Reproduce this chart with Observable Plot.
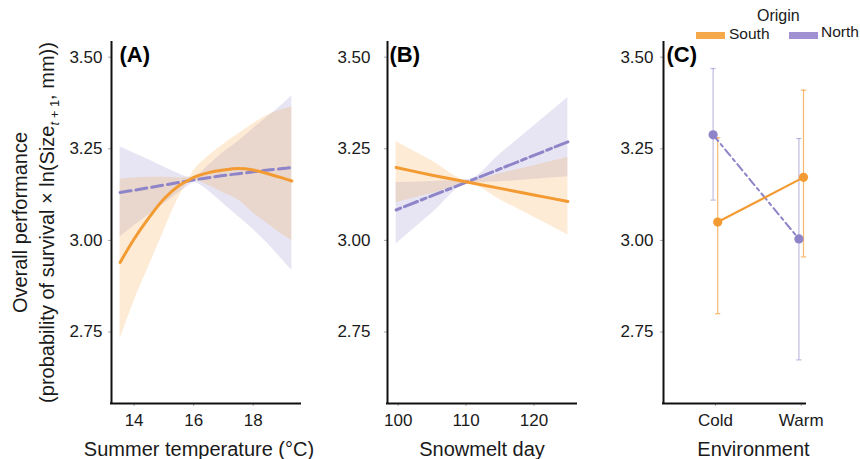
<!DOCTYPE html>
<html><head><meta charset="utf-8">
<script src="https://cdn.jsdelivr.net/npm/d3@7"></script>
<script src="https://cdn.jsdelivr.net/npm/@observablehq/plot@0.6"></script>
<style>
body{margin:0;background:#fff;}
#wrap{position:relative;width:860px;height:459px;overflow:hidden;font-family:"Liberation Sans",Arial,sans-serif;color:#1a1a1a;}
.panel{position:absolute;top:0;}
#ytitle{position:absolute;left:-167px;top:195.5px;width:400px;height:53px;line-height:26.5px;font-size:20px;text-align:center;transform:rotate(-90deg);transform-origin:center;white-space:nowrap;}
.sub{font-size:13px;vertical-align:-5px;line-height:0;}
.leg{position:absolute;font-size:16px;line-height:16px;white-space:nowrap;}
.key{position:absolute;height:7px;}
</style></head><body><div id="wrap"></div>
<script>
// ---------- data ----------
const yDomain = [2.555, 3.54];
const yTicks = [2.75, 3.00, 3.25, 3.50];

// Panel A: summer temperature
const tempX       = [13.53, 14, 14.5, 15, 15.5, 15.85, 16, 16.5, 17, 17.5, 18, 18.5, 19, 19.3];
const tempSouthFit = [2.94, 3.004, 3.062, 3.113, 3.149, 3.165, 3.172, 3.185, 3.192, 3.196, 3.192, 3.182, 3.170, 3.162];
const tempSouthLo  = [2.73, 2.835, 2.93, 3.026, 3.117, 3.160, 3.164, 3.15, 3.13, 3.11, 3.075, 3.045, 3.015, 3.00];
const tempSouthHi  = [3.167, 3.170, 3.172, 3.172, 3.170, 3.172, 3.19, 3.23, 3.262, 3.29, 3.318, 3.342, 3.357, 3.363];
const tempNorthFit = [3.131, 3.137, 3.144, 3.151, 3.158, 3.163, 3.165, 3.171, 3.177, 3.182, 3.187, 3.192, 3.196, 3.199];
const tempNorthLo  = [3.009, 3.04, 3.07, 3.10, 3.13, 3.15, 3.158, 3.135, 3.10, 3.065, 3.03, 2.99, 2.945, 2.918];
const tempNorthHi  = [3.255, 3.238, 3.22, 3.2, 3.182, 3.172, 3.172, 3.205, 3.24, 3.27, 3.305, 3.338, 3.372, 3.395];
const tempTicks = [14, 16, 18];

// Panel B: snowmelt day
const snowX        = [99.7, 105, 110.5, 115, 120, 125];
const snowSouthFit = [3.199, 3.178, 3.158, 3.142, 3.124, 3.106];
const snowSouthLo  = [3.103, 3.128, 3.153, 3.111, 3.063, 3.015];
const snowSouthHi  = [3.27, 3.217, 3.163, 3.182, 3.204, 3.226];
const snowNorthFit = [3.083, 3.122, 3.162, 3.195, 3.232, 3.269];
const snowNorthLo  = [2.99, 3.074, 3.157, 3.160, 3.167, 3.174];
const snowNorthHi  = [3.158, 3.161, 3.167, 3.235, 3.312, 3.39];
const snowTicks = [100, 110, 120];

// Panel C: environment
const envCats     = ["Cold", "Warm"];
const envSouthMean = [3.05, 3.172];
const envSouthLo   = [2.80, 2.955];
const envSouthHi   = [3.28, 3.41];
const envNorthMean = [3.288, 3.004];
const envNorthLo   = [3.11, 2.674];
const envNorthHi   = [3.469, 3.278];

const origins = ["South", "North"];

// ---------- style ----------
const ORANGE = "#F39B32", PURPLE = "#8E84C8";
const LEG_ORANGE = "#F6A94B", LEG_PURPLE = "#A092D2";
const FONT = "'Liberation Sans', Arial, sans-serif";

const tableA = tempX.map((x, i) => ({x, sF: tempSouthFit[i], sL: tempSouthLo[i], sH: tempSouthHi[i], nF: tempNorthFit[i], nL: tempNorthLo[i], nH: tempNorthHi[i]}));
const tableB = snowX.map((x, i) => ({x, sF: snowSouthFit[i], sL: snowSouthLo[i], sH: snowSouthHi[i], nF: snowNorthFit[i], nL: snowNorthLo[i], nH: snowNorthHi[i]}));
const southC = envCats.map((c, i) => ({pos: i + 1, mean: envSouthMean[i], lo: envSouthLo[i], hi: envSouthHi[i]}));
const northC = envCats.map((c, i) => ({pos: i + 1, mean: envNorthMean[i], lo: envNorthLo[i], hi: envNorthHi[i]}));

const capSymbol = {draw(ctx, size) { ctx.moveTo(-2.6, 0); ctx.lineTo(2.6, 0); }};

function ribbonMarks(table, northDash) {
  return [
    Plot.areaY(table, {x: "x", y1: "nL", y2: "nH", fill: PURPLE, fillOpacity: 0.21, curve: "monotone-x"}),
    Plot.areaY(table, {x: "x", y1: "sL", y2: "sH", fill: ORANGE, fillOpacity: 0.2, curve: "monotone-x"}),
    Plot.line(table, {x: "x", y: "nF", stroke: PURPLE, strokeWidth: 3, strokeDasharray: northDash, curve: "catmull-rom"}),
    Plot.line(table, {x: "x", y: "sF", stroke: ORANGE, strokeWidth: 3, curve: "catmull-rom"})
  ];
}

function makePanel({left, width, ml, mr, xDomain, xTicks, xFormat, tickPad, marks, title, titleDx, tag, tagDx}) {
  const chart = Plot.plot({
    width, height: 459,
    marginLeft: ml, marginRight: mr, marginTop: 42, marginBottom: 56,
    style: {fontFamily: FONT, fontSize: "17px", color: "#1a1a1a", background: "transparent", overflow: "visible"},
    x: {domain: xDomain},
    y: {domain: yDomain},
    marks: [
      ...marks,
      Plot.axisY({ticks: yTicks, tickFormat: d3.format(".2f"), tickSize: 3, tickPadding: tickPad, label: null, stroke: "#aaa", fill: "#1a1a1a"}),
      Plot.axisX({ticks: xTicks, tickFormat: xFormat, tickSize: 3, tickPadding: 7, label: null, stroke: "#aaa", fill: "#1a1a1a"}),
      Plot.ruleX([xDomain[0]], {stroke: "#111", strokeWidth: 2, strokeLinecap: "square"}),
      Plot.ruleY([yDomain[0]], {stroke: "#111", strokeWidth: 2, strokeLinecap: "square"}),
      Plot.text([title], {text: d => d, frameAnchor: "bottom", lineAnchor: "top", dy: 38, dx: titleDx, fontSize: 20, fill: "#1a1a1a"}),
      Plot.text([tag], {text: d => d, frameAnchor: "top-left", lineAnchor: "top", textAnchor: "start", dx: tagDx, dy: 4, fontSize: 22, fontWeight: "bold", fill: "#000"})
    ]
  });
  chart.classList.add("panel");
  chart.style.left = left + "px";
  document.getElementById("wrap").appendChild(chart);
}

makePanel({
  left: 0, width: 320, ml: 111, mr: 20,
  xDomain: [13.24, 19.59], xTicks: tempTicks, xFormat: d3.format("d"), tickPad: 6,
  marks: ribbonMarks(tableA, "11,5"),
  title: "Summer temperature (°C)", titleDx: -7, tag: "(A)", tagDx: 8
});

makePanel({
  left: 320, width: 290, ml: 67, mr: 34,
  xDomain: [98.43, 126.27], xTicks: snowTicks, xFormat: d3.format("d"), tickPad: 14,
  marks: ribbonMarks(tableB, "5,4,14,4"),
  title: "Snowmelt day", titleDx: 0, tag: "(B)", tagDx: 2
});

const dodge = 2.3;
makePanel({
  left: 610, width: 250, ml: 53, mr: 55,
  xDomain: [0.395, 2.05], xTicks: [1, 2], xFormat: d => envCats[d - 1], tickPad: 7,
  marks: [
    Plot.ruleX(southC, {x: "pos", y1: "lo", y2: "hi", dx: dodge, stroke: ORANGE, strokeOpacity: 0.7, strokeWidth: 1.2}),
    Plot.dot(southC, {x: "pos", y: "lo", dx: dodge, symbol: capSymbol, fill: "none", stroke: ORANGE, strokeOpacity: 0.7, strokeWidth: 1.2}),
    Plot.dot(southC, {x: "pos", y: "hi", dx: dodge, symbol: capSymbol, fill: "none", stroke: ORANGE, strokeOpacity: 0.7, strokeWidth: 1.2}),
    Plot.ruleX(northC, {x: "pos", y1: "lo", y2: "hi", dx: -dodge, stroke: PURPLE, strokeOpacity: 0.55, strokeWidth: 1.2}),
    Plot.dot(northC, {x: "pos", y: "lo", dx: -dodge, symbol: capSymbol, fill: "none", stroke: PURPLE, strokeOpacity: 0.55, strokeWidth: 1.2}),
    Plot.dot(northC, {x: "pos", y: "hi", dx: -dodge, symbol: capSymbol, fill: "none", stroke: PURPLE, strokeOpacity: 0.55, strokeWidth: 1.2}),
    Plot.line(northC, {x: "pos", y: "mean", dx: -dodge, stroke: PURPLE, strokeWidth: 2, strokeDasharray: "8,4,3,4"}),
    Plot.line(southC, {x: "pos", y: "mean", dx: dodge, stroke: ORANGE, strokeWidth: 2.2}),
    Plot.dot(northC, {x: "pos", y: "mean", dx: -dodge, r: 4.6, fill: PURPLE}),
    Plot.dot(southC, {x: "pos", y: "mean", dx: dodge, r: 4.6, fill: ORANGE})
  ],
  title: "Environment", titleDx: 19, tag: "(C)", tagDx: 3
});

// ---------- y-axis title ----------
const wrap = document.getElementById("wrap");
const yt = document.createElement("div");
yt.id = "ytitle";
yt.innerHTML = 'Overall performance<br>(probability of survival × ln(Size<span class="sub"><i>t</i> + 1</span>, mm))';
wrap.appendChild(yt);

// ---------- legend ----------
function addDiv(cls, text, style) {
  const d = document.createElement("div");
  d.className = cls;
  if (text) d.textContent = text;
  Object.assign(d.style, style);
  wrap.appendChild(d);
}
addDiv("leg", "Origin", {left: "757px", top: "8px"});
const legColors = [LEG_ORANGE, LEG_PURPLE];
const legKeyLeft = [696, 789];
const legTextLeft = [729, 821];
origins.forEach((o, i) => {
  addDiv("key", null, {left: legKeyLeft[i] + "px", top: "32px", width: "29px", background: legColors[i]});
  addDiv("leg", o, {left: legTextLeft[i] + "px", top: (i === 0 ? 26 : 24) + "px", fontSize: "15.5px"});
});
</script></body></html>
